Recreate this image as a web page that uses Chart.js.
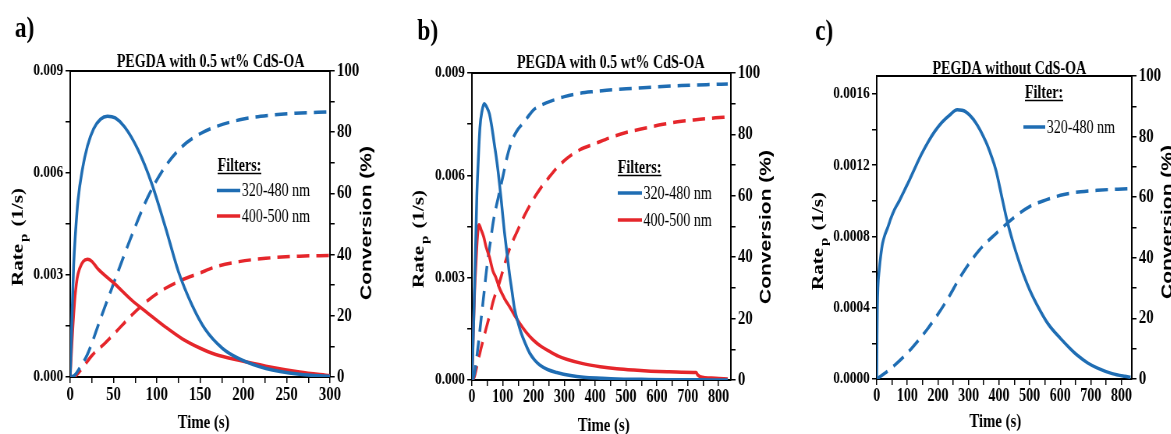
<!DOCTYPE html>
<html>
<head>
<meta charset="utf-8">
<script src="https://cdn.jsdelivr.net/npm/chart.js@4.4.1/dist/chart.umd.min.js"></script>
<style>
  html, body { margin: 0; padding: 0; background: #fff; width: 1171px; height: 434px; overflow: hidden; }
  canvas { position: absolute; top: 0; transform: scaleX(0.78); transform-origin: 0 0; }
</style>
</head>
<body>
<canvas id="pa" width="500" height="434" style="left:0px"></canvas>
<canvas id="pb" width="500" height="434" style="left:390px"></canvas>
<canvas id="pc" width="502" height="434" style="left:780px"></canvas>
<script>
// ---- data ----
// a) PEGDA with 0.5 wt% CdS-OA, 0-300 s
const aTimeBlueRate = [0, 2, 4, 6, 9, 14, 20, 27, 35, 43, 52, 63, 78, 94, 110, 125, 141, 156, 176, 195, 226, 265, 300];
const aBlueRate = [0, 0.0017, 0.0033, 0.0042, 0.0052, 0.0061, 0.0068, 0.0073, 0.00758, 0.00767, 0.00762, 0.00735, 0.0067, 0.0057, 0.0044, 0.0031, 0.0021, 0.0014, 0.00084, 0.00054, 0.00025, 0.00008, 0.00002];
const aTimeRedRate = [0, 2, 5, 8, 11, 15, 20, 25, 32, 51, 71, 90, 110, 129, 149, 168, 195, 226, 265, 300];
const aRedRate = [0, 0.0010, 0.0022, 0.0029, 0.0032, 0.0034, 0.00346, 0.0034, 0.00318, 0.00275, 0.00226, 0.00187, 0.00147, 0.00113, 0.00086, 0.00066, 0.00049, 0.00032, 0.00015, 0.00004];
const aTimeBlueConv = [0, 5, 10, 20, 35, 50, 70, 90, 110, 130, 150, 170, 200, 230, 260, 300];
const aBlueConv = [0, 0.5, 2.5, 7.5, 19, 30.5, 45.5, 59, 68.9, 75.5, 79.5, 82, 84.3, 85.5, 86.2, 86.6];
const aTimeRedConv = [0, 5, 12, 25, 40, 51, 71, 90, 110, 129, 149, 168, 195, 226, 265, 300];
const aRedConv = [0, 0.2, 2.2, 7, 11, 14.2, 20.2, 25.1, 29, 31.7, 33.9, 36, 37.7, 38.8, 39.5, 39.7];

// b) PEGDA with 0.5 wt% CdS-OA, 0-840 s
const bTimeBlueRate = [0, 3, 6, 9, 13, 16, 20, 26, 33, 40, 48, 57, 65, 73, 81, 89, 97, 106, 114, 122, 130, 138, 149, 160, 174, 188, 204, 220, 247, 275, 320, 362, 420, 471, 550, 634, 740, 830];
const bBlueRate = [0, 0.0008, 0.0018, 0.0029, 0.0043, 0.0054, 0.0063, 0.0074, 0.0079, 0.0081, 0.0080, 0.0078, 0.0074, 0.0069, 0.0064, 0.0058, 0.0051, 0.0043, 0.0037, 0.0031, 0.0026, 0.0021, 0.0017, 0.00137, 0.00105, 0.00078, 0.00058, 0.00044, 0.0003, 0.00022, 0.00013, 0.00008, 0.00005, 0.00003, 0.00002, 0.00001, 0.000005, 0];
const bTimeRedRate = [0, 4, 8, 13, 18, 23, 30, 38, 46, 57, 68, 78, 89, 105, 122, 138, 155, 176, 198, 225, 253, 280, 307, 360, 416, 470, 525, 580, 634, 680, 727, 733, 740, 790, 830];
const bRedRate = [0, 0.0012, 0.0024, 0.0034, 0.0042, 0.00455, 0.0044, 0.0042, 0.0039, 0.0036, 0.0032, 0.0030, 0.0027, 0.0024, 0.00215, 0.0019, 0.00166, 0.0014, 0.00118, 0.00098, 0.00083, 0.0007, 0.00061, 0.00048, 0.00039, 0.00033, 0.00029, 0.00026, 0.00024, 0.00023, 0.00022, 0.00014, 0.0001, 0.00005, 0.00003];
const bTimeBlueConv = [0, 4, 8, 14, 20, 30, 40, 50, 60, 70, 80, 90, 102, 115, 130, 145, 160, 180, 200, 230, 260, 300, 350, 400, 460, 525, 600, 680, 760, 830];
const bBlueConv = [0, 0.5, 2, 6, 11, 20, 29, 38, 45, 52, 57, 61.5, 67, 73, 78, 81, 83, 85.5, 88, 89.8, 91, 92.3, 93.4, 94, 94.6, 95, 95.5, 95.9, 96.2, 96.4];
const bTimeRedConv = [0, 4, 8, 15, 24, 35, 48, 60, 70, 80, 90, 100, 110, 125, 145, 170, 200, 225, 250, 275, 300, 350, 400, 450, 500, 560, 620, 680, 740, 790, 830];
const bRedConv = [0, 0.3, 1, 4, 8, 12.5, 17.5, 22, 26, 29, 32, 35.5, 39, 43.5, 48, 53.5, 59, 62.8, 66, 69, 71.5, 75, 77, 79, 80.6, 82, 83.3, 84.3, 84.9, 85.4, 85.7];

// c) PEGDA without CdS-OA, 0-834 s
const cTimeBlueRate = [0, 1, 2, 4, 8, 13, 19, 27, 36, 46, 58, 74, 91, 108, 124, 146, 168, 190, 213, 238, 263, 290, 323, 357, 375, 390, 408, 426, 445, 465, 479, 500, 523, 560, 601, 630, 656, 690, 722, 770, 811, 830];
const cBlueRate = [0, 0.00025, 0.0004, 0.00052, 0.00061, 0.00069, 0.00076, 0.00081, 0.00085, 0.0009, 0.00095, 0.001, 0.00106, 0.00112, 0.00118, 0.00126, 0.00133, 0.00139, 0.00144, 0.00148, 0.00151, 0.0015, 0.00144, 0.00133, 0.00125, 0.00117, 0.00103, 0.00089, 0.00077, 0.00066, 0.00059, 0.0005, 0.00042, 0.00031, 0.000227, 0.000175, 0.000133, 0.00009, 0.000061, 0.00003, 0.000015, 0.00001];
const cTimeBlueConv = [0, 24, 58, 113, 168, 224, 279, 335, 390, 445, 501, 556, 612, 667, 722, 822];
const cBlueConv = [0, 1.7, 4.5, 10, 16.8, 25.1, 34.6, 42.5, 48, 53, 57, 59.2, 60.9, 61.8, 62.3, 62.8];

// ---- tick labels ----
const aTimeTicks = ['0', '50', '100', '150', '200', '250', '300'];
const bcTimeTicks = ['0', '100', '200', '300', '400', '500', '600', '700', '800'];
const abRateTicks = ['0.000', '0.003', '0.006', '0.009'];
const cRateTicks = ['0.0000', '0.0004', '0.0008', '0.0012', '0.0016'];
const convTicks = ['0', '20', '40', '60', '80', '100'];

const filterLabels = ['320-480 nm', '400-500 nm'];
const titleWith = 'PEGDA with 0.5 wt% CdS-OA';
const titleWithout = 'PEGDA without CdS-OA';

const BLUE = '#1f6db3';
const RED = '#e5262b';
const SERIF = '"Liberation Serif", "Times New Roman", serif';
const SANS = '"Liberation Sans", Arial, sans-serif';

function pts(t, v) { return t.map((x, i) => ({ x: x, y: v[i] })); }

// majors from labels, minors halfway between (and one more if it still fits)
function tickValues(labels, max) {
  const major = labels.map(Number);
  const step = major[1] - major[0];
  const all = [];
  major.forEach(v => { all.push(v); if (v + step / 2 <= max + 1e-12) all.push(v + step / 2); });
  return { all: all, major: major };
}

function axis(pos, min, max, labels, size, fontSize) {
  const tv = tickValues(labels, max);
  return {
    type: 'linear', position: pos, min: min, max: max,
    afterBuildTicks: s => { s.ticks = tv.all.map(v => ({ value: v })); },
    afterFit: s => { if (pos === 'bottom') s.height = size; else s.width = size; },
    ticks: {
      autoSkip: false, maxRotation: 0, padding: pos === 'bottom' ? 1 : 3,
      color: '#000', font: { family: SERIF, size: fontSize, weight: 'bold' },
      callback: v => {
        const i = tv.major.findIndex(m => Math.abs(m - v) < 1e-9);
        return i >= 0 ? labels[i] : '';
      }
    },
    grid: { display: true, drawOnChartArea: false, drawTicks: true, tickLength: 6, color: '#000', lineWidth: 1.5 },
    border: { display: true, color: '#000', width: 2 }
  };
}

const panelText = {
  id: 'panelText',
  afterDraw(chart, args, o) {
    const ctx = chart.ctx, a = chart.chartArea;
    ctx.save();
    ctx.strokeStyle = '#000';
    ctx.lineWidth = 2;
    ctx.beginPath(); ctx.moveTo(a.left, a.top); ctx.lineTo(a.right, a.top); ctx.stroke();

    ctx.fillStyle = '#000';
    ctx.textBaseline = 'alphabetic';
    ctx.textAlign = 'left';
    ctx.font = 'bold 30px ' + SERIF;
    ctx.fillText(o.letter, o.letterX, o.letterY);

    ctx.textAlign = 'center';
    ctx.font = 'bold 18px ' + SERIF;
    ctx.fillText(o.title, o.titleX, o.titleY);
    ctx.font = 'bold 19px ' + SERIF;
    ctx.fillText('Time (s)', o.xTitleX, o.xTitleY);

    // left title with subscript p
    ctx.save();
    ctx.translate(o.yTitleX, o.yTitleY);
    ctx.rotate(-Math.PI / 2);
    ctx.textAlign = 'left';
    ctx.textBaseline = 'middle';
    const big = 'bold 21px ' + SERIF, small = 'bold 15px ' + SERIF;
    ctx.font = big;
    const w1 = ctx.measureText('Rate').width, w3 = ctx.measureText(' (1/s)').width;
    ctx.font = small;
    const w2 = ctx.measureText('p').width;
    let x = -(w1 + w2 + w3 + 4) / 2;
    ctx.font = big; ctx.fillText('Rate', x, 0); x += w1 + 2;
    ctx.font = small; ctx.fillText('p', x, 7); x += w2 + 2;
    ctx.font = big; ctx.fillText(' (1/s)', x, 0);
    ctx.restore();

    // right title
    ctx.save();
    ctx.translate(o.y2TitleX, o.y2TitleY);
    ctx.rotate(-Math.PI / 2);
    ctx.textAlign = 'center';
    ctx.textBaseline = 'middle';
    ctx.font = 'bold 21px ' + SANS;
    ctx.fillText('Conversion (%)', 0, 0);
    ctx.restore();

    // legend
    ctx.textAlign = 'left';
    ctx.textBaseline = 'alphabetic';
    ctx.font = 'bold 18px ' + SERIF;
    ctx.fillText(o.legendHead, o.legX, o.legY);
    const hw = ctx.measureText(o.legendHead).width;
    ctx.lineWidth = 1.5;
    ctx.beginPath(); ctx.moveTo(o.legX, o.legY + 2.5); ctx.lineTo(o.legX + hw, o.legY + 2.5); ctx.stroke();
    ctx.font = '18px ' + SERIF;
    ctx.textBaseline = 'middle';
    o.rows.forEach((ry, i) => {
      ctx.strokeStyle = o.colors[i];
      ctx.lineWidth = 3.5;
      ctx.beginPath(); ctx.moveTo(o.lineX1, ry); ctx.lineTo(o.lineX2, ry); ctx.stroke();
      ctx.fillText(filterLabels[i], o.lineX2 + 2, ry + 1);
    });
    ctx.restore();
  }
};

function solid(data, color) {
  return { data: data, yAxisID: 'y', borderColor: color, borderWidth: 3.5, pointRadius: 0, cubicInterpolationMode: 'monotone', fill: false };
}
function dashed(data, color) {
  return { data: data, yAxisID: 'y2', borderColor: color, borderWidth: 3.5, borderDash: [16, 9], pointRadius: 0, cubicInterpolationMode: 'monotone', fill: false };
}

function makePanel(id, datasets, xMax, xLabels, xFont, rateMax, rateLabels, dims, text) {
  return new Chart(document.getElementById(id), {
    type: 'line',
    data: { datasets: datasets },
    options: {
      responsive: false, animation: false, devicePixelRatio: 1,
      layout: { padding: { top: dims.top, left: 0, right: 0, bottom: 0 } },
      plugins: { legend: { display: false }, tooltip: { enabled: false }, panelText: text },
      scales: {
        x: axis('bottom', 0, xMax, xLabels, dims.xH, xFont),
        y: axis('left', 0, rateMax, rateLabels, dims.yW, 17),
        y2: axis('right', 0, 100, convTicks, dims.y2W, 19)
      }
    },
    plugins: [panelText]
  });
}

makePanel('pa', [
  solid(pts(aTimeBlueRate, aBlueRate), BLUE),
  solid(pts(aTimeRedRate, aRedRate), RED),
  dashed(pts(aTimeBlueConv, aBlueConv), BLUE),
  dashed(pts(aTimeRedConv, aRedConv), RED)
], 300, aTimeTicks, 19, 0.009, abRateTicks,
  { top: 71, xH: 57, yW: 90, y2W: 77 },
  { letter: 'a)', letterX: 19, letterY: 37, title: titleWith, titleX: 270, titleY: 67,
    xTitleX: 261, xTitleY: 428, yTitleX: 24, yTitleY: 237, y2TitleX: 470, y2TitleY: 223,
    legendHead: 'Filters:', legX: 279, legY: 171, lineX1: 278, lineX2: 308, rows: [190.5, 216], colors: [BLUE, RED] });

makePanel('pb', [
  solid(pts(bTimeBlueRate, bBlueRate), BLUE),
  solid(pts(bTimeRedRate, bRedRate), RED),
  dashed(pts(bTimeBlueConv, bBlueConv), BLUE),
  dashed(pts(bTimeRedConv, bRedConv), RED)
], 840, bcTimeTicks, 18, 0.009, abRateTicks,
  { top: 73, xH: 54, yW: 105, y2W: 63 },
  { letter: 'b)', letterX: 35, letterY: 40, title: titleWith, titleX: 283, titleY: 68,
    xTitleX: 274, xTitleY: 431, yTitleX: 38, yTitleY: 239, y2TitleX: 482, y2TitleY: 227,
    legendHead: 'Filters:', legX: 292, legY: 173, lineX1: 292, lineX2: 323, rows: [193, 220], colors: [BLUE, RED] });

makePanel('pc', [
  solid(pts(cTimeBlueRate, cBlueRate), BLUE),
  dashed(pts(cTimeBlueConv, cBlueConv), BLUE)
], 834, bcTimeTicks, 18, 0.0017, cRateTicks,
  { top: 76, xH: 55, yW: 124, y2W: 51 },
  { letter: 'c)', letterX: 45, letterY: 40, title: titleWithout, titleX: 294, titleY: 74,
    xTitleX: 276, xTitleY: 427, yTitleX: 50, yTitleY: 241, y2TitleX: 497, y2TitleY: 222,
    legendHead: 'Filter:', legX: 314, legY: 98, lineX1: 312, lineX2: 340, rows: [127], colors: [BLUE] });
</script>
</body>
</html>
